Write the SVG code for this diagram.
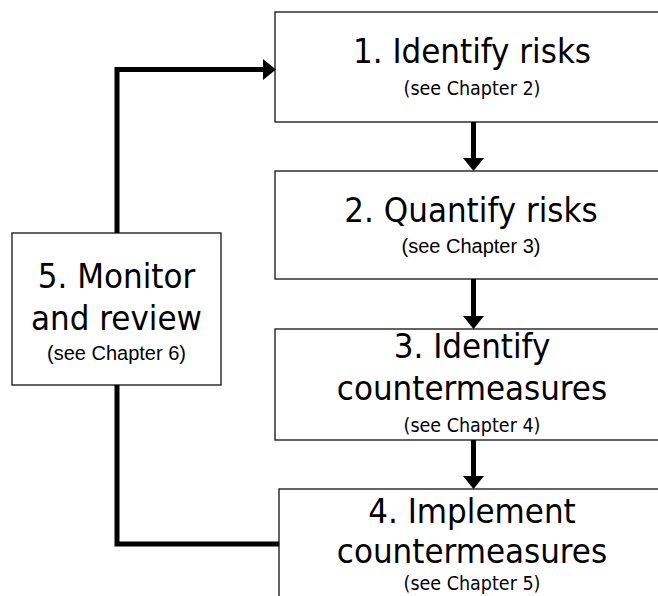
<svg xmlns="http://www.w3.org/2000/svg" width="658" height="596" viewBox="0 0 658 596">
<style>
.box{fill:#fff;stroke:#222;stroke-width:1.4}
.t{font-family:"DejaVu Sans Condensed","DejaVu Sans",sans-serif;font-size:34.5px;fill:#000;text-anchor:middle}
.s{font-family:"DejaVu Sans Condensed","DejaVu Sans",sans-serif;font-size:19.5px;fill:#000;text-anchor:middle}
.a{font-family:"Liberation Sans",Arial,sans-serif;font-size:20px;fill:#000;text-anchor:middle}
.c{fill:none;stroke:#000;stroke-width:5}
</style>
<defs>
<marker id="ah" viewBox="0 0 13 21" refX="0" refY="10.5" markerWidth="13" markerHeight="21" markerUnits="userSpaceOnUse" orient="auto">
<path d="M0,0 L13,10.5 L0,21 z" fill="#000"/>
</marker>
</defs>
<g id="n1">
<rect class="box" x="275" y="12" width="400" height="110"/>
<text class="t" x="472" y="63">1. Identify risks</text>
<text class="s" x="472" y="95">(see Chapter 2)</text>
</g>
<g id="n2">
<rect class="box" x="275" y="171" width="400" height="108"/>
<text class="t" x="471" y="222">2. Quantify risks</text>
<text class="a" x="471" y="253">(see Chapter 3)</text>
</g>
<g id="n3">
<rect class="box" x="275" y="329" width="400" height="111"/>
<text class="t" x="472" y="358">3. Identify</text>
<text class="t" x="472" y="400">countermeasures</text>
<text class="s" x="472" y="432">(see Chapter 4)</text>
</g>
<g id="n4">
<rect class="box" x="279" y="489" width="400" height="120"/>
<text class="t" x="472" y="523">4. Implement</text>
<text class="t" x="472" y="563">countermeasures</text>
<text class="s" x="472" y="590">(see Chapter 5)</text>
</g>
<g id="n5">
<rect class="box" x="12" y="233" width="209" height="152"/>
<text class="t" x="116.5" y="288">5. Monitor</text>
<text class="t" x="116.5" y="330">and review</text>
<text class="a" x="116.5" y="360">(see Chapter 6)</text>
</g>
<g id="connectors">
<path class="c" d="M117,233 V69.5 H263" marker-end="url(#ah)"/>
<path class="c" d="M473.5,122 V158" marker-end="url(#ah)"/>
<path class="c" d="M473.5,279 V316" marker-end="url(#ah)"/>
<path class="c" d="M473.5,440 V476" marker-end="url(#ah)"/>
<path class="c" d="M117,385 V544 H279"/>
</g>
</svg>
